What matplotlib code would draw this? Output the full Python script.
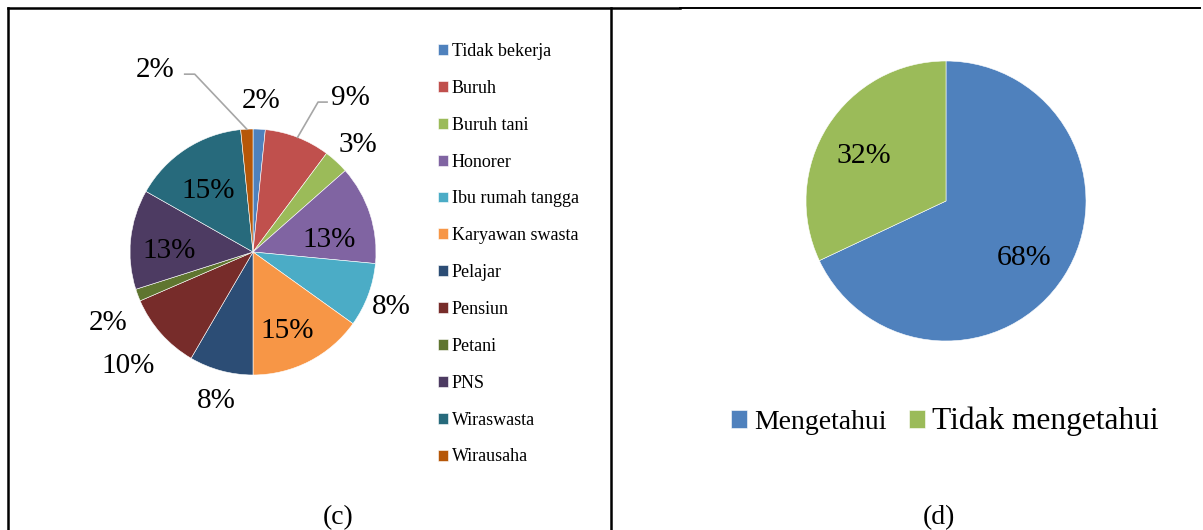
import numpy as np
import matplotlib
matplotlib.use('Agg')
import matplotlib.pyplot as plt

plt.rcParams['font.family'] = ['Liberation Serif', 'DejaVu Serif']

# (c) pekerjaan responden
jobs = ['Tidak bekerja', 'Buruh', 'Buruh tani', 'Honorer', 'Ibu rumah tangga',
        'Karyawan swasta', 'Pelajar', 'Pensiun', 'Petani', 'PNS',
        'Wiraswasta', 'Wirausaha']
job_pct = [1.6, 8.6, 3.3, 13.0, 8.4, 15.1, 8.4, 10.1, 1.6, 13.1, 15.2, 1.6]
job_colors = ['#4F81BD', '#C0504D', '#9BBB59', '#8064A2', '#4BACC6', '#F79646',
              '#2C4D75', '#772C2A', '#5F7530', '#4D3B62', '#276A7C', '#B65708']

# (d) pengetahuan
know = ['Mengetahui', 'Tidak mengetahui']
know_pct = [68, 32]
know_colors = ['#4F81BD', '#9BBB59']

W, H = 1203, 530
fig = plt.figure(figsize=(W / 100, H / 100), dpi=100)
ax = fig.add_axes([0, 0, 1, 1])

# left pie
c1 = (253, H - 252)
r1 = 123
wedges, _ = ax.pie(job_pct, colors=job_colors, startangle=90, counterclock=False,
                   center=c1, radius=r1,
                   wedgeprops=dict(edgecolor='white', linewidth=0.4))

vals = np.array(job_pct)
mid = 90 - 360 * (np.cumsum(vals) - vals / 2) / vals.sum()
lbl_dist = [1.25, 1.5, 1.24, 0.63, 1.2, 0.68, 1.22, 1.36, 1.3, 0.68, 0.64, 1.7]
lbl_shift = [0, -10.5, -1, -6.8, 0, -3.2, 1, 0, 4.5, 3.2, 2, 25]
leaders = {1: (-32, -23), 11: (39.5, 29.5)}
for i, v in enumerate(vals):
    a = np.radians(mid[i] + lbl_shift[i])
    tx = c1[0] + r1 * lbl_dist[i] * np.cos(a)
    ty = c1[1] + r1 * lbl_dist[i] * np.sin(a)
    ax.text(tx, ty - 3, '%.0f%%' % v, ha='center', va='center', fontsize=21)
    if i in leaders:
        m = np.radians(mid[i])
        ex, ey = c1[0] + r1 * np.cos(m), c1[1] + r1 * np.sin(m)
        kx, ke = leaders[i]
        ax.plot([ex, tx + kx, tx + ke], [ey, ty - 7, ty - 7], color='#A6A6A6', lw=1.2)

leg1 = ax.legend(wedges, jobs, loc='upper left', bbox_to_anchor=(438 / W, (H - 43) / H),
                 frameon=False, fontsize=13, handlelength=0.55, handleheight=0.55,
                 handletextpad=0.22, labelspacing=1.1, borderpad=0, borderaxespad=0)
ax.add_artist(leg1)

# right pie
c2 = (946, H - 201)
r2 = 140
w2, _, autot = ax.pie(know_pct, colors=know_colors, startangle=90, counterclock=False,
                      center=c2, radius=r2, autopct='%.0f%%', pctdistance=0.68,
                      wedgeprops=dict(edgecolor='white', linewidth=0.4))
for t in autot:
    t.set_fontsize(21.5)
    px, py = t.get_position()
    t.set_position((px - 2, py - 6))

leg2 = ax.legend(w2, know, loc='center left', bbox_to_anchor=(731 / W, (H - 421) / H),
                 ncol=2, frameon=False, fontsize=20, handlelength=0.58, handleheight=0.58,
                 handletextpad=0.25, columnspacing=0.8, borderpad=0, borderaxespad=0)
leg2.get_texts()[1].set_fontsize(22.6)

# captions
ax.text(338, H - 518, '(c)', ha='center', va='center', fontsize=20)
ax.text(939, H - 518, '(d)', ha='center', va='center', fontsize=20)

# table borders
ax.plot([7.5, 680], [H - 7.5, H - 7.5], color='black', lw=1.8)
ax.plot([680, 1200], [H - 7.5, H - 7.5], color='black', lw=1.4)
ax.plot([7.5, 7.5], [H - 7.5, 0], color='black', lw=1.8)
ax.plot([611, 611], [H - 7.5, 0], color='black', lw=1.8)

ax.set_xlim(0, W)
ax.set_ylim(0, H)
ax.axis('off')

fig.savefig('out.png', dpi=100)
